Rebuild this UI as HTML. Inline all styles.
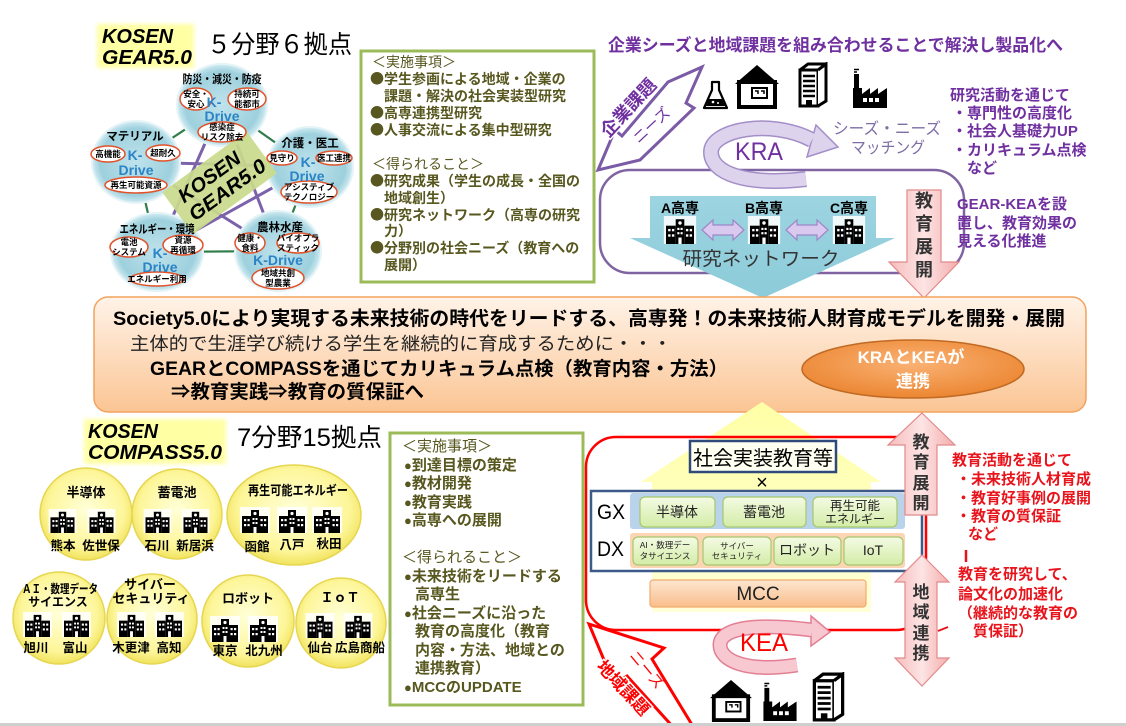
<!DOCTYPE html>
<html><head><meta charset="utf-8"><title>KOSEN GEAR / COMPASS</title>
<style>
html,body{margin:0;padding:0;background:#fff;width:1126px;height:726px;overflow:hidden}
svg{display:block;font-family:"Liberation Sans","Noto Sans CJK JP",sans-serif}
</style></head><body>
<svg width="1126" height="726" viewBox="0 0 1126 726" xmlns="http://www.w3.org/2000/svg">
<defs>
 <filter id="blur" x="-10%" y="-20%" width="120%" height="140%"><feGaussianBlur stdDeviation="2"/></filter>
 <radialGradient id="gBlue" cx="50%" cy="50%" r="50%">
  <stop offset="0" stop-color="#bfe3ec"/><stop offset="0.82" stop-color="#9dd0dd"/><stop offset="1" stop-color="#d2ecf2"/>
 </radialGradient>
 <radialGradient id="gYel" cx="50%" cy="45%" r="55%">
  <stop offset="0" stop-color="#ffffd8"/><stop offset="0.75" stop-color="#fdf69a"/><stop offset="1" stop-color="#f1e35e"/>
 </radialGradient>
 <linearGradient id="gBanner" x1="0" y1="0" x2="0" y2="1">
  <stop offset="0" stop-color="#fff3e8"/><stop offset="1" stop-color="#fbc594"/>
 </linearGradient>
 <radialGradient id="gOrange" cx="50%" cy="40%" r="60%">
  <stop offset="0" stop-color="#fab274"/><stop offset="1" stop-color="#eb8632"/>
 </radialGradient>
 <linearGradient id="gPink" x1="0" y1="0" x2="1" y2="0">
  <stop offset="0" stop-color="#f6bcbc"/><stop offset="0.5" stop-color="#fde4e4"/><stop offset="1" stop-color="#f4acac"/>
 </linearGradient>
 <linearGradient id="gGreen" x1="0" y1="0" x2="0" y2="1">
  <stop offset="0" stop-color="#f4fbe4"/><stop offset="1" stop-color="#d3eca6"/>
 </linearGradient>
 <linearGradient id="gMCC" x1="0" y1="0" x2="0" y2="1">
  <stop offset="0" stop-color="#fde6d0"/><stop offset="1" stop-color="#f9be8c"/>
 </linearGradient>
 <linearGradient id="gYArrow" x1="0" y1="0" x2="0" y2="1">
  <stop offset="0" stop-color="#ffffa6"/><stop offset="1" stop-color="#ffffd8"/>
 </linearGradient>
 <linearGradient id="gTeal" x1="0" y1="0" x2="0" y2="1">
  <stop offset="0" stop-color="#9dd4e1"/><stop offset="1" stop-color="#8ccbd9"/>
 </linearGradient>
 <symbol id="school" viewBox="0 0 30 26">
  <rect width="30" height="26" fill="#fff" opacity="0.85"/>
  <rect x="11" y="3" width="8" height="23" fill="#000"/>
  <rect x="2" y="9" width="9" height="17" fill="#000"/>
  <rect x="19" y="9" width="9" height="17" fill="#000"/>
  <g fill="#fff">
   <circle cx="15" cy="6.5" r="1.6"/>
   <rect x="4" y="12" width="2.2" height="2.2"/><rect x="7.5" y="12" width="2.2" height="2.2"/>
   <rect x="4" y="17" width="2.2" height="2.2"/><rect x="7.5" y="17" width="2.2" height="2.2"/>
   <rect x="20.5" y="12" width="2.2" height="2.2"/><rect x="24" y="12" width="2.2" height="2.2"/>
   <rect x="20.5" y="17" width="2.2" height="2.2"/><rect x="24" y="17" width="2.2" height="2.2"/>
   <rect x="12.5" y="11" width="2" height="2"/><rect x="15.5" y="11" width="2" height="2"/>
   <rect x="12.5" y="15" width="2" height="2"/><rect x="15.5" y="15" width="2" height="2"/>
   <rect x="13.5" y="20" width="3" height="6"/>
  </g>
 </symbol>
 <symbol id="house" viewBox="0 0 44 44">
  <polygon points="0,19 22,0 44,19" fill="#000"/>
  <rect x="4" y="17" width="36" height="25" fill="#fff" stroke="#000" stroke-width="4"/>
  <rect x="17" y="23" width="15" height="10" fill="#fff" stroke="#000" stroke-width="2"/>
  <path d="M20,26h3v3 M26,26h3v3" stroke="#000" stroke-width="1.5" fill="none"/>
 </symbol>
 <symbol id="bldg" viewBox="0 0 30 46">
  <path d="M2,8 L20,8 L20,44 L2,44 Z" fill="#fff" stroke="#000" stroke-width="3"/>
  <path d="M20,8 L28,2 L28,39 L20,44" fill="#fff" stroke="#000" stroke-width="3"/>
  <path d="M2,8 L10,2 L28,2" fill="none" stroke="#000" stroke-width="3"/>
  <path d="M5,14h12M5,19h12M5,24h12M5,29h12M5,34h12" stroke="#000" stroke-width="2.5"/>
  <rect x="8" y="38" width="6" height="6" fill="#000"/>
 </symbol>
 <symbol id="factory" viewBox="0 0 34 40">
  <rect x="1" y="6" width="5" height="16" fill="#000"/>
  <path d="M1,1.5h5 M1,4h3" stroke="#000" stroke-width="1.5"/>
  <polygon points="0,40 0,20 9,20 9,26 17,20 17,26 25,20 25,26 34,20 34,40" fill="#000"/>
  <rect x="10" y="30" width="4" height="4" fill="#fff"/><rect x="16" y="30" width="4" height="4" fill="#fff"/><rect x="22" y="30" width="4" height="4" fill="#fff"/>
 </symbol>
</defs>

<!-- ========== TOP LEFT: GEAR pentagon ========== -->
<rect x="97" y="24" width="97" height="44" fill="#ffffa4" filter="url(#blur)"/>
<text x="102" y="43" font-size="20" font-weight="bold" font-style="italic" textLength="71" lengthAdjust="spacingAndGlyphs">KOSEN</text>
<text x="102" y="64" font-size="20" font-weight="bold" font-style="italic" textLength="90" lengthAdjust="spacingAndGlyphs">GEAR5.0</text>
<text x="207" y="53" font-size="25" textLength="145" lengthAdjust="spacingAndGlyphs">５分野６拠点</text>

<path d="M222,105 L310,167 L278,251 L157,252 L136,162 Z" fill="none" stroke="#2f7d4a" stroke-width="2.2"/>
<g stroke="#7b62aa" stroke-width="3">
 <line x1="222" y1="105" x2="278" y2="251"/>
 <line x1="222" y1="105" x2="157" y2="252"/>
 <line x1="136" y1="162" x2="310" y2="167"/>
 <line x1="136" y1="162" x2="278" y2="251"/>
 <line x1="310" y1="167" x2="157" y2="252"/>
</g>
<g fill="url(#gBlue)" stroke="#e4f3f7" stroke-width="2">
 <ellipse cx="222" cy="105" rx="45" ry="41"/>
 <ellipse cx="136" cy="162" rx="44" ry="41"/>
 <ellipse cx="310" cy="167" rx="43" ry="40"/>
 <ellipse cx="278" cy="251" rx="43" ry="40"/>
 <ellipse cx="157" cy="252" rx="46" ry="39"/>
</g>
<g transform="translate(222,186) rotate(-36)">
 <rect x="-52" y="-30" width="104" height="52" fill="#c9da8c" opacity="0.92"/>
 <text x="-5" y="-8" text-anchor="middle" font-size="20" font-weight="bold" font-style="italic" textLength="72" lengthAdjust="spacingAndGlyphs">KOSEN</text>
 <text x="2" y="13" text-anchor="middle" font-size="20" font-weight="bold" font-style="italic" textLength="90" lengthAdjust="spacingAndGlyphs">GEAR5.0</text>
</g>
<g font-weight="bold" text-anchor="middle" font-size="11.5">
 <text x="222" y="83" textLength="79" lengthAdjust="spacingAndGlyphs">防災・減災・防疫</text>
 <text x="135" y="140">マテリアル</text>
 <text x="310" y="147">介護・医工</text>
 <text x="280" y="231">農林水産</text>
 <text x="157" y="233" textLength="75" lengthAdjust="spacingAndGlyphs">エネルギー・環境</text>
</g>
<g fill="#fff" stroke="#e0522a" stroke-width="1.5">
 <ellipse cx="196" cy="99" rx="16" ry="11"/>
 <ellipse cx="247" cy="99" rx="19" ry="11"/>
 <ellipse cx="222" cy="132" rx="24" ry="10"/>
 <ellipse cx="108" cy="154" rx="17" ry="8"/>
 <ellipse cx="163" cy="153" rx="17" ry="8"/>
 <ellipse cx="136" cy="185" rx="31" ry="8"/>
 <ellipse cx="282" cy="158" rx="15" ry="7"/>
 <ellipse cx="334" cy="158" rx="18" ry="7"/>
 <ellipse cx="309" cy="192" rx="28" ry="11"/>
 <ellipse cx="250" cy="243" rx="15" ry="10"/>
 <ellipse cx="298" cy="243" rx="21" ry="10"/>
 <ellipse cx="278" cy="278" rx="26" ry="11"/>
 <ellipse cx="129" cy="247" rx="19" ry="10"/>
 <ellipse cx="183" cy="245" rx="20" ry="10"/>
 <ellipse cx="157" cy="279" rx="27" ry="7"/>
</g>
<g font-size="8.5" font-weight="bold" text-anchor="middle">
 <text x="196" y="97">安全・</text><text x="196" y="107">安心</text>
 <text x="247" y="97">持続可</text><text x="247" y="107">能都市</text>
 <text x="222" y="130">感染症</text><text x="222" y="140">リスク除去</text>
 <text x="108" y="157">高機能</text>
 <text x="163" y="156">超耐久</text>
 <text x="136" y="188">再生可能資源</text>
 <text x="282" y="161">見守り</text>
 <text x="334" y="161">医工連携</text>
 <text x="309" y="190">アシスティブ</text><text x="309" y="200">テクノロジー</text>
 <text x="250" y="241">健康・</text><text x="250" y="251">食料</text>
 <text x="298" y="241">バイオプラ</text><text x="298" y="251">スティック</text>
 <text x="278" y="276">地域共創</text><text x="278" y="286">型農業</text>
 <text x="129" y="245">電池</text><text x="129" y="255">システム</text>
 <text x="183" y="243">資源</text><text x="183" y="253">再循環</text>
 <text x="157" y="282">エネルギー利用</text>
</g>
<g font-size="14" font-weight="bold" fill="#2a84c6" text-anchor="middle">
 <text x="214" y="107">K-</text><text x="222" y="121">Drive</text>
 <text x="135" y="160">K-</text><text x="136" y="175">Drive</text>
 <text x="308" y="167">K-</text><text x="307" y="181">Drive</text>
 <text x="278" y="265">K-Drive</text>
 <text x="160" y="258">K-</text><text x="160" y="272">Drive</text>
</g>

<!-- ========== TOP MIDDLE BOX ========== -->
<rect x="361" y="51" width="233" height="231" fill="#fff" stroke="#9bbb59" stroke-width="3"/>
<g fill="#57571f" font-size="14" font-weight="bold">
 <text x="372" y="67" font-weight="normal">＜実施事項＞</text>
 <text x="370" y="84"><tspan font-family="Noto Sans CJK JP">●</tspan>学生参画による地域・企業の</text>
 <text x="384" y="101">課題・解決の社会実装型研究</text>
 <text x="370" y="118"><tspan font-family="Noto Sans CJK JP">●</tspan>高専連携型研究</text>
 <text x="370" y="135"><tspan font-family="Noto Sans CJK JP">●</tspan>人事交流による集中型研究</text>
 <text x="372" y="169" font-weight="normal">＜得られること＞</text>
 <text x="370" y="186"><tspan font-family="Noto Sans CJK JP">●</tspan>研究成果（学生の成長・全国の</text>
 <text x="384" y="203">地域創生）</text>
 <text x="370" y="220"><tspan font-family="Noto Sans CJK JP">●</tspan>研究ネットワーク（高専の研究</text>
 <text x="384" y="236">力）</text>
 <text x="370" y="253"><tspan font-family="Noto Sans CJK JP">●</tspan>分野別の社会ニーズ（教育への</text>
 <text x="384" y="270">展開）</text>
</g>

<!-- ========== TOP RIGHT ========== -->
<text x="608" y="51" font-size="17" font-weight="bold" fill="#7030a0" textLength="455" lengthAdjust="spacingAndGlyphs">企業シーズと地域課題を組み合わせることで解決し製品化へ</text>

<polygon points="702,67 686,103 694,108 640,160 598,170 615,130 622,136 668,82" fill="#fff" stroke="#7b5aa6" stroke-width="3" stroke-linejoin="miter"/>
<text transform="translate(633,112) rotate(-47)" text-anchor="middle" font-size="18" font-weight="bold" fill="#7030a0" stroke="#fff" stroke-width="3" paint-order="stroke">企業課題</text>
<text transform="translate(655,129) rotate(-43)" text-anchor="middle" font-size="15" fill="#7030a0">ニーズ</text>

<g>
 <path d="M712,82 L719,82 L719,90 L727,108 L704,108 L712,90 Z" fill="#fff" stroke="#000" stroke-width="2.2" stroke-linejoin="round"/>
 <path d="M709,99 L722,99 L725,106 L706,106 Z" fill="#000"/>
 <circle cx="713" cy="102" r="1.3" fill="#fff"/><circle cx="718" cy="103" r="1" fill="#fff"/>
</g>
<use href="#house" x="735" y="65" width="44" height="44"/>
<use href="#bldg" x="798" y="62" width="30" height="46"/>
<use href="#factory" x="853" y="68" width="34" height="40"/>

<rect x="600" y="170" width="364" height="103" rx="30" fill="none" stroke="#8064a2" stroke-width="2.5"/>

<path d="M806,179 C745,186 711,173 711,152 C711,130 770,118 812,140" fill="none" stroke="#a38ec8" stroke-width="16"/>
<polygon points="816,125 838,147 807,157" fill="#ddd3ed" stroke="#a38ec8" stroke-width="1.5"/>
<path d="M806,179 C745,186 711,173 711,152 C711,130 770,118 812,140" fill="none" stroke="#ddd3ed" stroke-width="13"/>
<text x="735" y="160" font-size="25" fill="#7030a0" textLength="48" lengthAdjust="spacingAndGlyphs">KRA</text>
<text x="833" y="134" font-size="16" fill="#7e6ea6" textLength="108" lengthAdjust="spacingAndGlyphs">シーズ・ニーズ</text>
<text x="851" y="153" font-size="16" fill="#7e6ea6" textLength="74" lengthAdjust="spacingAndGlyphs">マッチング</text>

<g fill="#7030a0" font-size="15" font-weight="bold">
 <text x="950" y="100">研究活動を通じて</text>
 <text x="952" y="118">・専門性の高度化</text>
 <text x="952" y="136">・社会人基礎力UP</text>
 <text x="952" y="155">・カリキュラム点検</text>
 <text x="967" y="173">など</text>
 <text x="957" y="209">GEAR-KEAを設</text>
 <text x="957" y="228">置し、教育効果の</text>
 <text x="957" y="246">見える化推進</text>
</g>

<polygon points="650,196 876,196 876,238 895,238 763,298 630,238 650,238" fill="url(#gTeal)"/>
<g font-size="14" font-weight="bold" text-anchor="middle">
 <text x="680" y="213">A高専</text>
 <text x="764" y="213">B高専</text>
 <text x="849" y="213">C高専</text>
</g>
<use href="#school" x="663" y="216" width="34" height="28"/>
<use href="#school" x="747" y="216" width="34" height="28"/>
<use href="#school" x="832" y="216" width="34" height="28"/>
<g fill="#d9c9ee" stroke="#9f86c8" stroke-width="1.2">
 <polygon points="702,230 713,220 713,225 733,225 733,220 744,230 733,240 733,235 713,235 713,240"/>
 <polygon points="786,230 797,220 797,225 817,225 817,220 828,230 817,240 817,235 797,235 797,240"/>
</g>
<text x="761" y="265" text-anchor="middle" font-size="19" fill="#333" textLength="157" lengthAdjust="spacingAndGlyphs">研究ネットワーク</text>

<polygon points="907,190 941,190 941,262 959,262 924,298 889,262 907,262" fill="url(#gPink)" stroke="#e28a8a" stroke-width="1.2"/>
<g font-size="18" font-weight="bold" fill="#333" text-anchor="middle">
 <text x="924" y="207">教</text><text x="924" y="230">育</text><text x="924" y="253">展</text><text x="924" y="276">開</text>
</g>

<!-- ========== MIDDLE BANNER ========== -->
<rect x="94" y="297" width="992" height="115" rx="14" fill="url(#gBanner)" stroke="#f2a25e" stroke-width="1.5"/>
<text x="113" y="325" font-size="19.5" font-weight="bold" textLength="952" lengthAdjust="spacingAndGlyphs">Society5.0により実現する未来技術の時代をリードする、高専発！の未来技術人財育成モデルを開発・展開</text>
<text x="130" y="350" font-size="18" fill="#222" textLength="542" lengthAdjust="spacingAndGlyphs">主体的で生涯学び続ける学生を継続的に育成するために・・・</text>
<text x="150" y="375" font-size="19" font-weight="bold" textLength="578" lengthAdjust="spacingAndGlyphs">GEARとCOMPASSを通じてカリキュラム点検（教育内容・方法）</text>
<text x="171" y="398" font-size="19" font-weight="bold" textLength="253" lengthAdjust="spacingAndGlyphs">⇒教育実践⇒教育の質保証へ</text>
<ellipse cx="913" cy="369" rx="111" ry="29" fill="url(#gOrange)" stroke="#c06a24" stroke-width="1.5"/>
<g fill="#fff" font-size="17" font-weight="bold" text-anchor="middle">
 <text x="911" y="363">KRAとKEAが</text>
 <text x="913" y="387">連携</text>
</g>

<!-- ========== BOTTOM LEFT: COMPASS ========== -->
<rect x="84" y="419" width="142" height="45" fill="#ffffa4" filter="url(#blur)"/>
<text x="88" y="438" font-size="20" font-weight="bold" font-style="italic" textLength="70" lengthAdjust="spacingAndGlyphs">KOSEN</text>
<text x="88" y="459" font-size="20" font-weight="bold" font-style="italic" textLength="134" lengthAdjust="spacingAndGlyphs">COMPASS5.0</text>
<text x="237" y="446" font-size="25" textLength="145" lengthAdjust="spacingAndGlyphs">7分野15拠点</text>

<g fill="url(#gYel)" stroke="#e6d650" stroke-width="1.5">
 <circle cx="86" cy="514" r="46"/>
 <circle cx="177" cy="514" r="45"/>
 <ellipse cx="294" cy="515" rx="67" ry="50"/>
 <circle cx="59" cy="618" r="46"/>
 <circle cx="152" cy="619" r="45"/>
 <circle cx="248" cy="621" r="46"/>
 <circle cx="341" cy="623" r="45"/>
</g>
<g font-size="13" font-weight="bold" text-anchor="middle">
 <text x="86" y="497">半導体</text>
 <text x="177" y="497">蓄電池</text>
 <text x="298" y="495" textLength="100" lengthAdjust="spacingAndGlyphs">再生可能エネルギー</text>
 <text x="60" y="593" font-size="12" textLength="76" lengthAdjust="spacingAndGlyphs">ＡＩ・数理データ</text>
 <text x="58" y="606" font-size="12">サイエンス</text>
 <text x="150" y="589">サイバー</text>
 <text x="151" y="603">セキュリティ</text>
 <text x="248" y="603">ロボット</text>
 <text x="340" y="602">ＩｏＴ</text>
</g>
<use href="#school" x="48" y="509" width="29" height="24"/>
<use href="#school" x="87" y="509" width="29" height="24"/>
<use href="#school" x="143" y="509" width="29" height="24"/>
<use href="#school" x="181" y="509" width="29" height="24"/>
<use href="#school" x="240" y="507" width="30" height="26"/>
<use href="#school" x="277" y="507" width="30" height="26"/>
<use href="#school" x="312" y="507" width="30" height="26"/>
<use href="#school" x="23" y="612" width="29" height="25"/>
<use href="#school" x="62" y="612" width="29" height="25"/>
<use href="#school" x="117" y="612" width="29" height="25"/>
<use href="#school" x="155" y="612" width="29" height="25"/>
<use href="#school" x="210" y="616" width="30" height="26"/>
<use href="#school" x="248" y="616" width="30" height="26"/>
<use href="#school" x="305" y="613" width="30" height="25"/>
<use href="#school" x="343" y="613" width="30" height="25"/>
<g font-size="12.5" font-weight="bold" text-anchor="middle">
 <text x="63" y="550">熊本</text><text x="101" y="550">佐世保</text>
 <text x="157" y="550">石川</text><text x="195" y="550">新居浜</text>
 <text x="257" y="551">函館</text><text x="292" y="549">八戸</text><text x="329" y="548">秋田</text>
 <text x="36" y="652">旭川</text><text x="75" y="652">富山</text>
 <text x="131" y="652">木更津</text><text x="169" y="652">高知</text>
 <text x="225" y="655">東京</text><text x="264" y="655">北九州</text>
 <text x="320" y="652">仙台</text><text x="360" y="652">広島商船</text>
</g>

<!-- ========== BOTTOM MIDDLE BOX ========== -->
<rect x="390" y="433" width="193" height="272" fill="#fff" stroke="#9bbb59" stroke-width="3"/>
<g fill="#57571f" font-size="15" font-weight="bold">
 <text x="402" y="451" font-weight="normal">＜実施事項＞</text>
 <text x="404" y="470"><tspan font-size="13">●</tspan>到達目標の策定</text>
 <text x="404" y="488"><tspan font-size="13">●</tspan>教材開発</text>
 <text x="404" y="507"><tspan font-size="13">●</tspan>教育実践</text>
 <text x="404" y="525"><tspan font-size="13">●</tspan>高専への展開</text>
 <text x="402" y="562" font-weight="normal">＜得られること＞</text>
 <text x="404" y="581"><tspan font-size="13">●</tspan>未来技術をリードする</text>
 <text x="415" y="599">高専生</text>
 <text x="404" y="618"><tspan font-size="13">●</tspan>社会ニーズに沿った</text>
 <text x="415" y="636">教育の高度化（教育</text>
 <text x="415" y="655">内容・方法、地域との</text>
 <text x="415" y="673">連携教育）</text>
 <text x="404" y="692"><tspan font-size="13">●</tspan>MCCのUPDATE</text>
</g>

<!-- ========== BOTTOM RIGHT ========== -->
<polygon points="762,402 881,482 871,482 871,612 652,612 652,482 641,482" fill="url(#gYArrow)"/>
<rect x="586" y="437" width="340" height="193" rx="30" fill="none" stroke="#ff0000" stroke-width="2.5"/>
<rect x="690" y="441" width="146" height="31" fill="#fffff2" stroke="#2f4a7a" stroke-width="2.5"/>
<text x="763" y="465" text-anchor="middle" font-size="20">社会実装教育等</text>
<text x="762" y="489" text-anchor="middle" font-size="20">×</text>

<rect x="591" y="491" width="331" height="80" fill="#fff" stroke="#3d5a8a" stroke-width="2.5"/>
<rect x="630" y="493" width="275" height="36" rx="3" fill="#b9d4ea"/>
<rect x="630" y="533" width="275" height="35" rx="3" fill="#fcd6b4"/>
<text x="597" y="519" font-size="21" textLength="28" lengthAdjust="spacingAndGlyphs">GX</text>
<text x="597" y="556" font-size="21" textLength="27" lengthAdjust="spacingAndGlyphs">DX</text>
<g fill="url(#gGreen)" stroke="#a6c76c" stroke-width="1.2">
 <rect x="640" y="497" width="75" height="30" rx="5"/>
 <rect x="723" y="497" width="83" height="30" rx="5"/>
 <rect x="813" y="497" width="84" height="30" rx="5"/>
 <rect x="633" y="537" width="65" height="28" rx="5"/>
 <rect x="703" y="537" width="68" height="28" rx="5"/>
 <rect x="774" y="537" width="67" height="28" rx="5"/>
 <rect x="844" y="537" width="59" height="28" rx="5"/>
</g>
<g text-anchor="middle" fill="#222">
 <text x="677" y="517" font-size="14">半導体</text>
 <text x="764" y="517" font-size="14">蓄電池</text>
 <text x="855" y="510" font-size="12.5">再生可能</text>
 <text x="855" y="523" font-size="12">エネルギー</text>
 <text x="665" y="548" font-size="8.5">AI・数理デー</text>
 <text x="665" y="559" font-size="8.5">タサイエンス</text>
 <text x="737" y="549" font-size="8.5">サイバー</text>
 <text x="737" y="559" font-size="8.5">セキュリティ</text>
 <text x="807" y="555" font-size="14">ロボット</text>
 <text x="873" y="555" font-size="14">IoT</text>
</g>
<rect x="650" y="580" width="216" height="27" rx="3" fill="url(#gMCC)" stroke="#f2ab6c" stroke-width="1.2"/>
<text x="758" y="600" text-anchor="middle" font-size="19" fill="#222">MCC</text>

<path d="M797,665 C745,673 720,660 720,645 C720,630 748,622 812,630" fill="none" stroke="#e27f94" stroke-width="15"/>
<polygon points="811,616 830,632 811,646" fill="#f8c8d1" stroke="#e27f94" stroke-width="1.5"/>
<path d="M797,665 C745,673 720,660 720,645 C720,630 748,622 812,630" fill="none" stroke="#f8c8d1" stroke-width="12"/>
<text x="740" y="651" font-size="25" fill="#ff0000" textLength="48" lengthAdjust="spacingAndGlyphs">KEA</text>

<polygon points="589,624 664,648 652,659 694,728 674,728 627,676 614,684" fill="#fff" stroke="#ff0000" stroke-width="3" stroke-linejoin="miter"/>
<text transform="translate(619,692) rotate(47)" text-anchor="middle" font-size="17" font-weight="bold" fill="#ff0000" stroke="#fff" stroke-width="3" paint-order="stroke">地域課題</text>
<text transform="translate(643,673) rotate(50)" text-anchor="middle" font-size="15" fill="#ff0000">ニーズ</text>

<use href="#house" x="709" y="680" width="44" height="42"/>
<use href="#factory" x="763" y="682" width="34" height="39"/>
<use href="#bldg" x="810" y="672" width="37" height="50"/>

<polygon points="922,413 955,445 937,445 937,515 905,515 905,445 888,445" fill="url(#gPink)" stroke="#e28a8a" stroke-width="1.2"/>
<g font-size="17" font-weight="bold" fill="#333" text-anchor="middle">
 <text x="921" y="448">教</text><text x="921" y="468">育</text><text x="921" y="489">展</text><text x="921" y="509">開</text>
</g>
<polygon points="922,555 949,582 937,582 937,658 949,658 922,686 895,658 905,658 905,582 895,582" fill="url(#gPink)" stroke="#e28a8a" stroke-width="1.2"/>
<g font-size="17" font-weight="bold" fill="#333" text-anchor="middle">
 <text x="921" y="598">地</text><text x="921" y="618">域</text><text x="921" y="639">連</text><text x="921" y="659">携</text>
</g>

<g fill="#e8141c" font-size="15" font-weight="bold">
 <text x="952" y="465">教育活動を通じて</text>
 <text x="956" y="484">・未来技術人材育成</text>
 <text x="956" y="503">・教育好事例の展開</text>
 <text x="956" y="521">・教育の質保証</text>
 <text x="968" y="539">など</text>
 <text x="958" y="579">教育を研究して、</text>
 <text x="958" y="599">論文化の加速化</text>
 <text x="958" y="618">（継続的な教育の</text>
 <text x="973" y="636">質保証）</text>
</g>
<line x1="966" y1="550" x2="966" y2="562" stroke="#e8141c" stroke-width="2.5"/>
<line x1="938" y1="631" x2="948" y2="627" stroke="#e8141c" stroke-width="2"/>

<rect x="0" y="723" width="1126" height="3" fill="#cfcfcf"/>
</svg>
</body></html>
